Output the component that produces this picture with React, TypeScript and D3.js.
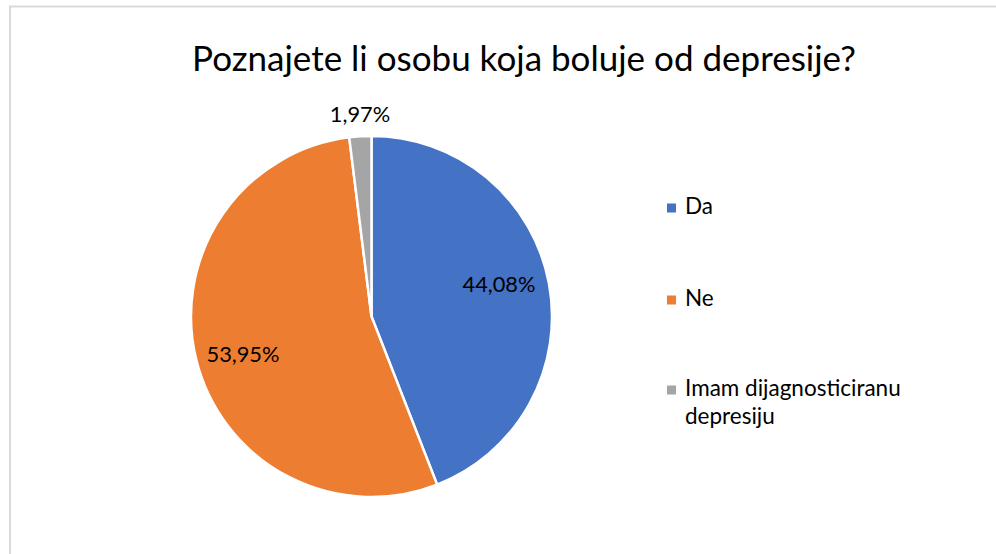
import React from "react";
import * as d3 from "d3";

const categories = ["Da", "Ne", "Imam dijagnosticiranu depresiju"];
const values = [44.08, 53.95, 1.97];
const labels = ["44,08%", "53,95%", "1,97%"];
const colors = ["#4472C4", "#ED7D31", "#A5A5A5"];
const title = "Poznajete li osobu koja boluje od depresije?";

export default function App() {
  const W = 996, H = 554;
  const cx = 371.5, cy = 316.5, r = 180.5;
  const pie = d3.pie<number>().sort(null).value((d) => d)(values);
  const arc = d3.arc<d3.PieArcDatum<number>>().innerRadius(0).outerRadius(r);
  const font = "Lato, 'Open Sans', sans-serif";
  const labelPos = [
    [499, 286],
    [243, 356],
    [360, 116],
  ];
  const legendY = [208, 300, 390];
  return (
    <svg width={W} height={H} style={{ position: "absolute", left: 0, top: 0 }}>
      <rect x={0} y={0} width={W} height={H} fill="#fff" />
      <rect x={10} y={6.5} width={W + 20} height={H + 20} fill="#fff" stroke="#d9d9d9" strokeWidth={2} />
      <text x={524} y={71} textAnchor="middle" fontFamily={font} fontSize={35} fill="#000">
        {title}
      </text>
      <g transform={`translate(${cx},${cy})`}>
        {pie.map((p, i) => (
          <path key={i} d={arc(p) || ""} fill={colors[i]} stroke="#fff" strokeWidth={2.5} />
        ))}
      </g>
      {labels.map((l, i) => (
        <text key={i} x={labelPos[i][0]} y={labelPos[i][1]} textAnchor="middle" dominantBaseline="middle" fontFamily={font} fontSize={21.8} fill="#000">
          {l}
        </text>
      ))}
      {categories.map((c, i) => {
        const lines = i === 2 ? ["Imam dijagnosticiranu", "depresiju"] : [c];
        return (
          <g key={i}>
            <rect x={667} y={legendY[i] - 4.5} width={9} height={9} fill={colors[i]} />
            {lines.map((t, j) => (
              <text key={j} x={685} y={legendY[i] + j * 28} dominantBaseline="middle" fontFamily={font} fontSize={22.5} fill="#000">
                {t}
              </text>
            ))}
          </g>
        );
      })}
    </svg>
  );
}
